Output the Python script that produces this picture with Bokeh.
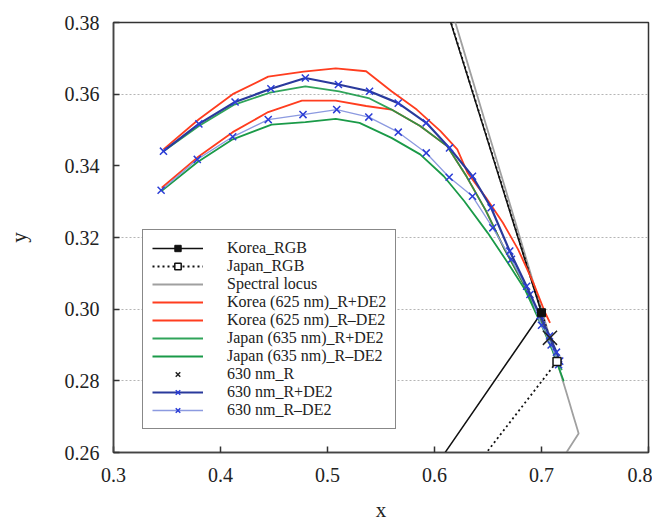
from bokeh.plotting import figure
from bokeh.models import Legend, LegendItem, FixedTicker, PrintfTickFormatter, Range1d
from bokeh.embed import file_html
from bokeh.resources import INLINE

# ---------------- data ----------------
x_ticks = [0.3, 0.4, 0.5, 0.6, 0.7, 0.8]
y_ticks = [0.26, 0.28, 0.30, 0.32, 0.34, 0.36, 0.38]
grid_y = [0.28, 0.30, 0.32, 0.36]

# display primaries (G, R, B) - closed triangle
korea_rgb_x = [0.280, 0.700, 0.148, 0.280]
korea_rgb_y = [0.700, 0.299, 0.060, 0.700]
japan_rgb_x = [0.270, 0.7145, 0.130, 0.270]
japan_rgb_y = [0.710, 0.2854, 0.060, 0.710]

# CIE 1931 spectral locus (580-700 nm) and purple line to 380 nm
locus_x = [0.5125, 0.5448, 0.5752, 0.6029, 0.6270, 0.6482, 0.6658, 0.6801, 0.6915,
           0.7006, 0.7079, 0.7140, 0.7190, 0.7230, 0.7260, 0.7300, 0.7320, 0.7334, 0.7347, 0.1741]
locus_y = [0.4866, 0.4544, 0.4242, 0.3965, 0.3725, 0.3514, 0.3340, 0.3197, 0.3083,
           0.2993, 0.2920, 0.2859, 0.2809, 0.2770, 0.2740, 0.2700, 0.2680, 0.2666, 0.2653, 0.0050]

korea_p_x = [0.3467, 0.3798, 0.4114, 0.4446, 0.4777, 0.5077, 0.5361, 0.5598, 0.5834, 0.6056,
             0.6213, 0.6308, 0.6482, 0.6639, 0.6781, 0.6923, 0.7034, 0.7080]
korea_p_y = [0.3446, 0.3530, 0.3600, 0.3649, 0.3663, 0.3672, 0.3664, 0.3608, 0.3557, 0.3497,
             0.3446, 0.3381, 0.3311, 0.3241, 0.3167, 0.3074, 0.2990, 0.2962]

korea_m_x = [0.3451, 0.3783, 0.4114, 0.4446, 0.4761, 0.5077, 0.5361, 0.5598, 0.5866, 0.6118,
             0.6300, 0.6480, 0.6655, 0.6845, 0.6971, 0.7030]
korea_m_y = [0.3339, 0.3423, 0.3494, 0.3550, 0.3582, 0.3582, 0.3567, 0.3557, 0.3511, 0.3455,
             0.3370, 0.3275, 0.3167, 0.3064, 0.2980, 0.2945]

japan_p_x = [0.3467, 0.3798, 0.4130, 0.4461, 0.4793, 0.5108, 0.5393, 0.5598, 0.5866, 0.6118,
             0.6300, 0.6480, 0.6655, 0.6845, 0.6971, 0.7060, 0.7130, 0.7190]
japan_p_y = [0.3441, 0.3511, 0.3571, 0.3604, 0.3622, 0.3608, 0.3588, 0.3557, 0.3511, 0.3455,
             0.3370, 0.3275, 0.3167, 0.3064, 0.2980, 0.2920, 0.2870, 0.2830]

japan_m_x = [0.3451, 0.3783, 0.4114, 0.4477, 0.4793, 0.5077, 0.5299, 0.5598, 0.5866, 0.6087,
             0.6277, 0.6497, 0.6686, 0.6845, 0.6930, 0.7003, 0.7098, 0.7208]
japan_m_y = [0.3330, 0.3410, 0.3474, 0.3515, 0.3522, 0.3531, 0.3520, 0.3478, 0.3432, 0.3371,
             0.3302, 0.3213, 0.3129, 0.3055, 0.3000, 0.2953, 0.2888, 0.2799]

nm630_x = [0.7079]
nm630_y = [0.2920]

nm630_p_x = [0.3467, 0.3798, 0.4136, 0.4471, 0.4793, 0.5102, 0.5393, 0.5661, 0.5923, 0.6140,
             0.6355, 0.6529, 0.6703, 0.6861, 0.6987, 0.7075, 0.7140, 0.7170]
nm630_p_y = [0.3441, 0.3517, 0.3578, 0.3615, 0.3645, 0.3627, 0.3608, 0.3575, 0.3520, 0.3450,
             0.3371, 0.3283, 0.3162, 0.3064, 0.2982, 0.2925, 0.2880, 0.2855]

nm630_m_x = [0.3445, 0.3783, 0.4114, 0.4446, 0.4771, 0.5086, 0.5386, 0.5661, 0.5923, 0.6137,
             0.6355, 0.6545, 0.6719, 0.6892, 0.7000, 0.7090, 0.7160]
nm630_m_y = [0.3332, 0.3418, 0.3481, 0.3529, 0.3543, 0.3557, 0.3536, 0.3494, 0.3436, 0.3368,
             0.3315, 0.3227, 0.3139, 0.3041, 0.2955, 0.2900, 0.2845]

# ---------------- styles ----------------
RED = "#ff3d1f"
GREEN = "#1a9a48"
BLUE_DARK = "#2a3a9c"
BLUE_MARK = "#2b3dd6"
BLUE_LIGHT = "#8c9ae0"
GRAY = "#a0a0a0"
SERIF = "Liberation Serif, Times New Roman, serif"

p = figure(width=652, height=527, output_backend="svg", toolbar_location=None,
           x_range=Range1d(0.3, 0.8), y_range=Range1d(0.26, 0.38),
           min_border_left=113, min_border_right=4, min_border_top=22, min_border_bottom=75)

p.background_fill_color = "white"
p.border_fill_color = "white"
p.outline_line_color = "#333333"
p.outline_line_width = 1.5

for ax, ticks, fmt in ((p.xaxis, x_ticks, "%.1f"), (p.yaxis, y_ticks, "%.2f")):
    ax.ticker = FixedTicker(ticks=ticks)
    ax.formatter = PrintfTickFormatter(format=fmt)
    ax.major_tick_in = 6
    ax.major_tick_out = 0
    ax.minor_tick_line_color = None
    ax.major_tick_line_color = "#333333"
    ax.major_tick_line_width = 1.5
    ax.axis_line_color = "#444444"
    ax.axis_line_width = 1.5
    ax.major_label_text_font = SERIF
    ax.major_label_text_font_size = "20px"
    ax.major_label_text_color = "#222222"
    ax.axis_label_text_font = SERIF
    ax.axis_label_text_font_size = "21px"
    ax.axis_label_text_font_style = "normal"
    ax.axis_label_text_color = "#222222"

p.xaxis.axis_label = "x"
p.yaxis.axis_label = "y"
p.xaxis.major_label_standoff = 15
p.xaxis.axis_label_standoff = 13
p.yaxis.major_label_standoff = 14
p.yaxis.axis_label_standoff = 31
p.yaxis.major_label_orientation = "horizontal"

p.xgrid.visible = False
p.ygrid.ticker = FixedTicker(ticks=grid_y)
p.ygrid.grid_line_color = "#b5b5b5"
p.ygrid.grid_line_dash = "2 2"
p.ygrid.grid_line_width = 1

# ---------------- glyphs ----------------
r_locus = p.line(locus_x, locus_y, line_color=GRAY, line_width=1.8)

r_kor_l = p.line(korea_rgb_x, korea_rgb_y, line_color="#111111", line_width=1.5)
r_jap_l = p.line(japan_rgb_x, japan_rgb_y, line_color="#111111", line_width=1.8, line_dash="2 3")

r_kp = p.line(korea_p_x, korea_p_y, line_color=RED, line_width=1.8)
r_km = p.line(korea_m_x, korea_m_y, line_color=RED, line_width=1.8)
r_jp = p.line(japan_p_x, japan_p_y, line_color=GREEN, line_width=1.8, line_alpha=0.9)
r_jm = p.line(japan_m_x, japan_m_y, line_color=GREEN, line_width=1.8)

r_bm_l = p.line(nm630_m_x, nm630_m_y, line_color=BLUE_LIGHT, line_width=1.3)
r_bm_s = p.scatter(nm630_m_x, nm630_m_y, marker="x", size=10, line_color=BLUE_MARK, line_width=1.5)
r_bp_l = p.line(nm630_p_x, nm630_p_y, line_color=BLUE_DARK, line_width=2.2)
r_bp_s = p.scatter(nm630_p_x, nm630_p_y, marker="x", size=10, line_color=BLUE_MARK, line_width=1.5)

r_kor_s = p.scatter(korea_rgb_x[:3], korea_rgb_y[:3], marker="square", size=8,
                    fill_color="#111111", line_color="#111111")
r_jap_s = p.scatter(japan_rgb_x[:3], japan_rgb_y[:3], marker="square", size=8,
                    fill_color="white", line_color="#111111", line_width=1.5)

r_630 = p.scatter(nm630_x, nm630_y, marker="x", size=20, line_color="#222222", line_width=1.5)

# ---------------- legend ----------------
items = [
    LegendItem(label="Korea_RGB", renderers=[r_kor_l, r_kor_s]),
    LegendItem(label="Japan_RGB", renderers=[r_jap_l, r_jap_s]),
    LegendItem(label="Spectral locus", renderers=[r_locus]),
    LegendItem(label="Korea (625 nm)_R+DE2", renderers=[r_kp]),
    LegendItem(label="Korea (625 nm)_R\u2013DE2", renderers=[r_km]),
    LegendItem(label="Japan (635 nm)_R+DE2", renderers=[r_jp]),
    LegendItem(label="Japan (635 nm)_R\u2013DE2", renderers=[r_jm]),
    LegendItem(label="630 nm_R", renderers=[r_630]),
    LegendItem(label="630 nm_R+DE2", renderers=[r_bp_l, r_bp_s]),
    LegendItem(label="630 nm_R\u2013DE2", renderers=[r_bm_l, r_bm_s]),
]
legend = Legend(items=items, location=(29, 23))
legend.label_text_font = SERIF
legend.label_text_font_size = "16px"
legend.label_text_color = "#222222"
legend.glyph_width = 51
legend.glyph_height = 16
legend.label_height = 16
legend.spacing = 0
legend.padding = 9
legend.label_standoff = 24
legend.border_line_color = "#111111"
legend.border_line_width = 1.5
legend.background_fill_color = "white"
legend.background_fill_alpha = 1.0
p.add_layout(legend, "center")

open("out.html", "w").write(file_html(p, INLINE))
